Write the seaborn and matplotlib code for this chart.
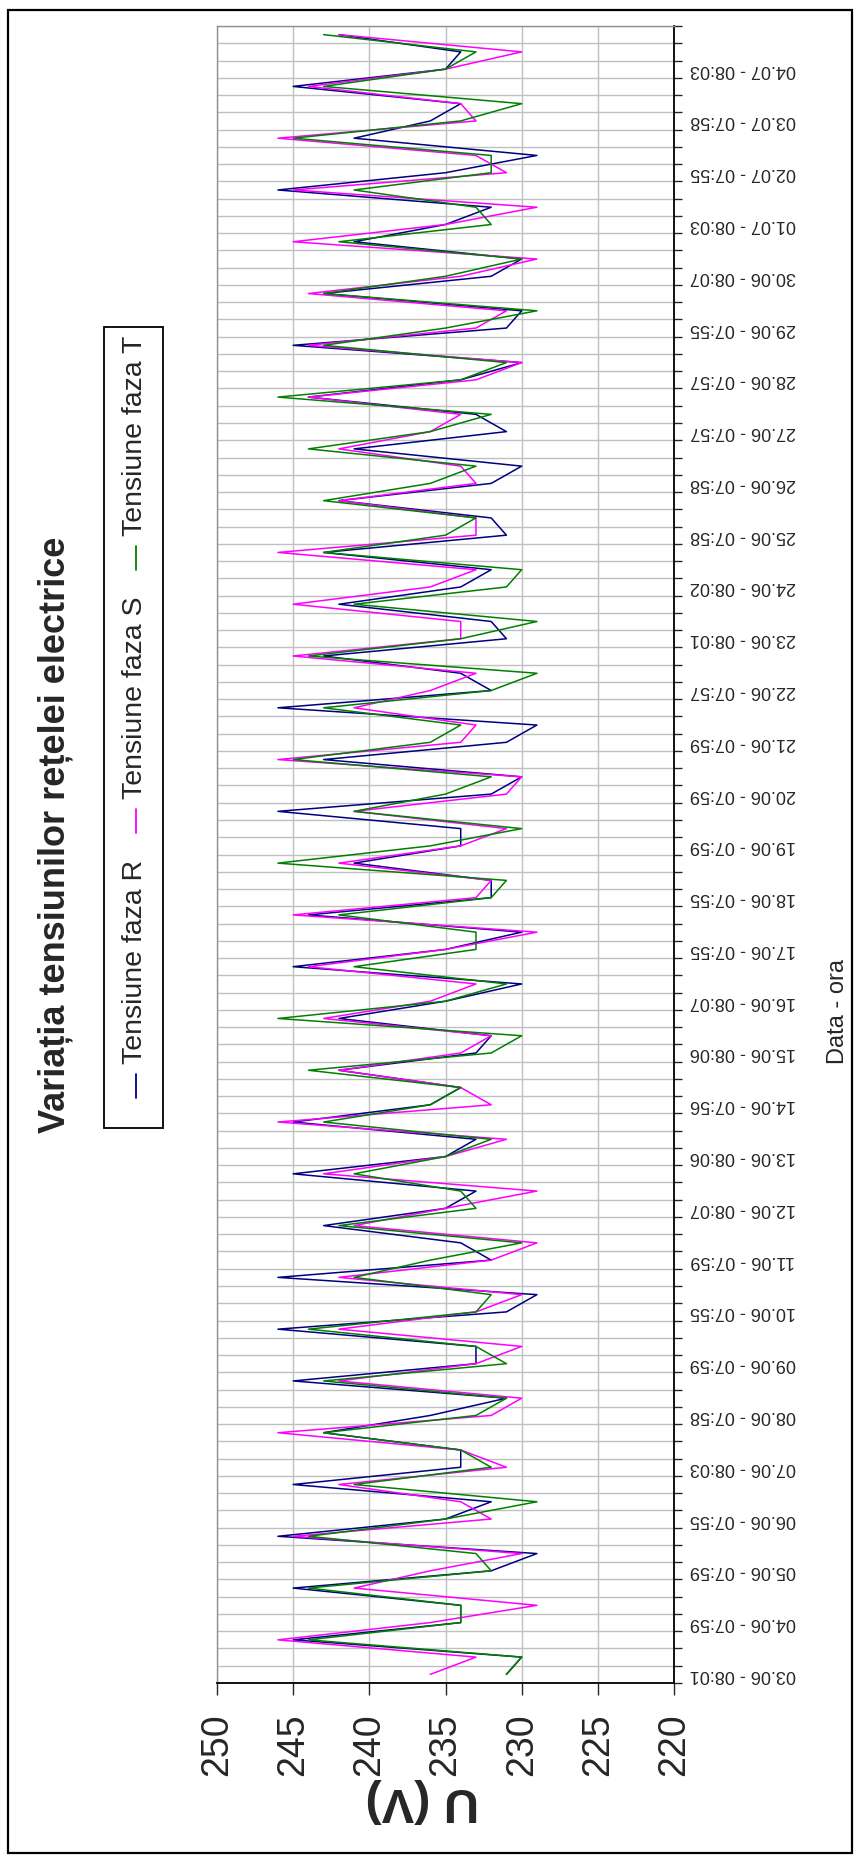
import numpy as np
import pandas as pd
import seaborn as sns
import matplotlib.pyplot as plt
from matplotlib.patches import Rectangle
from matplotlib.lines import Line2D

# values, one reading per category (bottom -> top)
faza_R = [231, 230, 245, 234, 234, 245, 232, 229, 246, 235, 232, 245, 234, 234, 243, 236,
          231, 245, 233, 233, 246, 231, 229, 246, 232, 234, 243, 235, 233, 245, 235, 233,
          245, 236, 234, 242, 233, 232, 242, 235, 230, 245, 235, 230, 244, 232, 232, 241,
          234, 234, 246, 232, 230, 243, 231, 229, 246, 232, 234, 243, 231, 232, 242, 234,
          232, 243, 231, 232, 242, 232, 230, 241, 231, 233, 244, 234, 230, 245, 231, 230,
          243, 232, 230, 241, 235, 232, 246, 235, 229, 241, 236, 234, 245, 235, 234, 242]
faza_S = [236, 233, 246, 236, 229, 241, 236, 230, 245, 232, 234, 242, 231, 234, 246, 232,
          230, 242, 233, 230, 242, 233, 230, 242, 232, 229, 241, 235, 229, 243, 235, 231,
          246, 232, 234, 242, 234, 232, 243, 236, 233, 244, 235, 229, 245, 233, 232, 242,
          234, 231, 241, 231, 230, 246, 234, 233, 241, 236, 233, 245, 234, 234, 245, 236,
          233, 246, 233, 233, 242, 233, 234, 242, 236, 234, 244, 233, 230, 244, 233, 231,
          244, 234, 229, 245, 235, 229, 245, 231, 233, 246, 233, 234, 244, 235, 230, 242]
faza_T = [231, 230, 244, 234, 234, 244, 232, 233, 244, 235, 229, 241, 232, 234, 243, 233,
          231, 243, 231, 233, 244, 233, 232, 241, 236, 230, 242, 233, 234, 241, 235, 232,
          243, 236, 234, 244, 232, 230, 246, 235, 231, 241, 233, 233, 242, 232, 231, 246,
          236, 230, 241, 235, 232, 245, 236, 234, 243, 232, 229, 244, 234, 229, 241, 231,
          230, 243, 235, 233, 243, 236, 233, 244, 236, 232, 246, 234, 231, 243, 235, 229,
          243, 235, 230, 242, 232, 233, 241, 232, 232, 245, 234, 230, 243, 235, 233, 243]

date_labels = ["03.06 - 08:01", "04.06 - 07:59", "05.06 - 07:59", "06.06 - 07:55",
               "07.06 - 08:03", "08.06 - 07:58", "09.06 - 07:59", "10.06 - 07:55",
               "11.06 - 07:59", "12.06 - 08:07", "13.06 - 08:06", "14.06 - 07:56",
               "15.06 - 08:06", "16.06 - 08:07", "17.06 - 07:55", "18.06 - 07:55",
               "19.06 - 07:59", "20.06 - 07:59", "21.06 - 07:59", "22.06 - 07:57",
               "23.06 - 08:01", "24.06 - 08:02", "25.06 - 07:58", "26.06 - 07:58",
               "27.06 - 07:57", "28.06 - 07:57", "29.06 - 07:55", "30.06 - 08:07",
               "01.07 - 08:03", "02.07 - 07:55", "03.07 - 07:58", "04.07 - 08:03"]
value_ticks = [250, 245, 240, 235, 230, 225, 220]

names = ["Tensiune faza R", "Tensiune faza S", "Tensiune faza T"]
colors = ["#000080", "#FF00FF", "#008000"]

n = len(faza_R)
df = pd.DataFrame({
    "idx": np.tile(np.arange(n), 3),
    "U": faza_R + faza_S + faza_T,
    "faza": np.repeat(names, n),
})

sns.set_style("white")
plt.rcParams["font.family"] = ["Liberation Sans", "DejaVu Sans"]

W, H = 861, 1863
fig = plt.figure(figsize=(W / 100, H / 100), dpi=100)

def fx(x):
    return x / W

def fy(y):
    return 1 - y / H

ax = fig.add_axes([fx(217), fy(1683), fx(674) - fx(217), fy(26) - fy(1683)])

sns.lineplot(data=df, x="U", y="idx", hue="faza", hue_order=names, palette=colors,
             orient="y", estimator=None, legend=False, linewidth=1.1, ax=ax)

ax.set_xlim(250, 220)
ax.set_ylim(-0.5, n - 0.5)
ax.set_xlabel("")
ax.set_ylabel("")

# value axis (bottom)
ax.set_xticks(value_ticks)
ax.set_xticklabels([str(v) for v in value_ticks])
ax.tick_params(axis="x", which="major", direction="out", length=8.6, width=1.0,
               pad=13, labelsize=27, labelrotation=90, bottom=True)

# category axis (right)
ax.yaxis.tick_right()
ax.set_yticks(np.arange(0, n, 3))
ax.set_yticklabels(date_labels)
ax.set_yticks(np.arange(-0.5, n, 1), minor=True)
ax.tick_params(axis="y", which="major", length=0, pad=11.5, labelsize=13,
               labelrotation=180)
ax.tick_params(axis="y", which="minor", direction="out", length=5.8, width=1.0, right=True)
for lbl in ax.get_yticklabels():
    lbl.set_ha("left")
    lbl.set_va("center")

ax.set_axisbelow(True)
ax.xaxis.grid(True, which="major", color="#c0c0c0", lw=1.0)
ax.yaxis.grid(True, which="minor", color="#c0c0c0", lw=1.0)
ax.yaxis.grid(False, which="major")

for s in ["left", "top"]:
    ax.spines[s].set_color("#909090")
    ax.spines[s].set_linewidth(1.0)
for s in ["right", "bottom"]:
    ax.spines[s].set_color("black")
    ax.spines[s].set_linewidth(1.3)

# texts
fig.text(fx(55), fy(835), "Variația tensiunilor rețelei electrice", rotation=90,
         fontsize=26, fontweight="bold", ha="center", va="center")
fig.text(fx(422), fy(1800), "U (V)", rotation=180, fontsize=35, fontweight="bold",
         ha="center", va="center")
fig.text(fx(838), fy(1012), "Data - ora", rotation=90, fontsize=17,
         ha="center", va="center")

# legend drawn rotated, entries stacked bottom -> top
fig.add_artist(Rectangle((fx(104), fy(1128)), fx(163) - fx(104), fy(327) - fy(1128),
                         fill=False, lw=1.3, ec="black", transform=fig.transFigure))
entry_start = [1064, 799, 536]
for name, col, y0 in zip(names, colors, entry_start):
    fig.add_artist(Line2D([fx(136), fx(136)], [fy(y0 + 34), fy(y0 + 10)], color=col,
                          lw=1.3, transform=fig.transFigure))
    fig.text(fx(135), fy(y0), name, rotation=90, fontsize=20.5, ha="center", va="bottom")

# outer frame
fig.add_artist(Rectangle((fx(8), fy(1853)), fx(852) - fx(8), fy(10) - fy(1853),
                         fill=False, lw=1.6, ec="black", transform=fig.transFigure))

fig.savefig("out.png", dpi=100, facecolor="white")
